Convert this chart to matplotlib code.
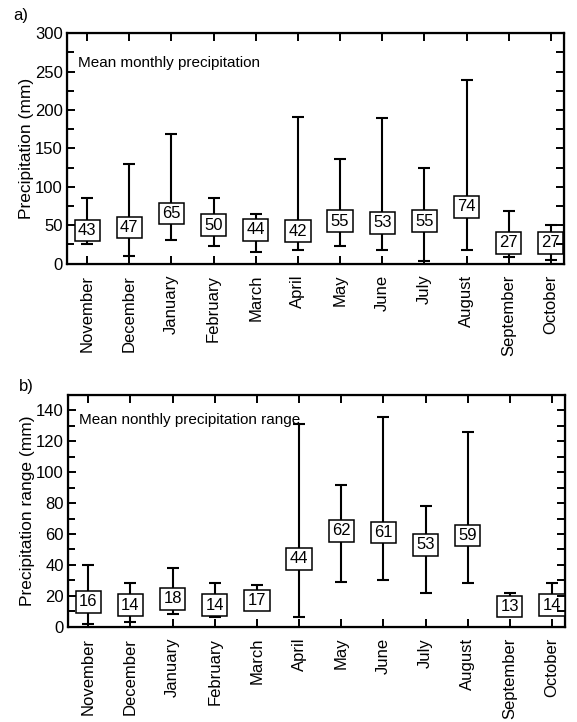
import matplotlib
matplotlib.use("Agg")
from matplotlib import pyplot as plt
from matplotlib.ticker import MultipleLocator

plt.rcParams['font.family'] = ['Liberation Sans', 'DejaVu Sans']

months = ["November", "December", "January", "February", "March", "April",
          "May", "June", "July", "August", "September", "October"]

# panel a: mean monthly precipitation (mm) with min / max
precip_mean = [43, 47, 65, 50, 44, 42, 55, 53, 55, 74, 27, 27]
precip_min = [26, 10, 30, 23, 15, 17, 23, 18, 3, 18, 9, 4]
precip_max = [85, 130, 169, 85, 65, 191, 136, 189, 125, 239, 68, 50]

# panel b: mean monthly precipitation range (mm) with min / max
range_mean = [16, 14, 18, 14, 17, 44, 62, 61, 53, 59, 13, 14]
range_min = [2, 3, 8, 6, 12, 6, 29, 30, 22, 28, 8, 8]
range_max = [40, 28, 38, 28, 27, 131, 92, 136, 78, 126, 22, 28]

fig = plt.figure(figsize=(5.77, 7.22), dpi=100)
ax_a = fig.add_axes([0.116, 0.635, 0.862, 0.319])
ax_b = fig.add_axes([0.118, 0.132, 0.862, 0.321])


def draw_panel(ax, mean, lo, hi, ylim, major, minor, right_step, ylabel, note, note_y):
    x = list(range(len(months)))
    # whiskers from min to max
    ax.errorbar(x, mean, yerr=[[m - l for m, l in zip(mean, lo)],
                               [h - m for m, h in zip(mean, hi)]],
                fmt='none', ecolor='black', elinewidth=1.5, capsize=4.5,
                capthick=1.5, zorder=2)
    # the value itself, written in a box at the mean
    for xi, m in zip(x, mean):
        ax.text(xi, m, str(m), ha='center', va='center', fontsize=12,
                zorder=3,
                bbox=dict(boxstyle='square,pad=0.2', fc='white', ec='black', lw=1.1))
    ax.set_xlim(-0.48, 11.32)
    ax.set_ylim(*ylim)
    ax.set_xticks(x)
    ax.set_xticklabels(months, rotation=90, fontsize=12)
    ax.yaxis.set_major_locator(MultipleLocator(major))
    ax.yaxis.set_minor_locator(MultipleLocator(minor))
    ax.tick_params(axis='both', which='both', direction='in', width=1.4)
    ax.tick_params(axis='both', which='major', length=6)
    ax.tick_params(axis='y', which='minor', length=5)
    ax.tick_params(axis='y', labelsize=12, pad=3)
    ax.tick_params(axis='x', top=True, pad=8)
    for s in ax.spines.values():
        s.set_linewidth(1.6)
    ax.set_ylabel(ylabel, fontsize=12.5, labelpad=1)
    # right side ticks without labels
    ax_r = ax.twinx()
    ax_r.set_ylim(*ylim)
    ax_r.yaxis.set_major_locator(MultipleLocator(right_step))
    ax_r.tick_params(axis='y', direction='in', length=6, width=1.4, labelright=False)
    ax.text(0.022, note_y, note, transform=ax.transAxes,
            ha='left', va='center', fontsize=11, zorder=1)


draw_panel(ax_a, precip_mean, precip_min, precip_max, (0, 300), 50, 25, 25,
           "Precipitation (mm)", "Mean monthly precipitation", 0.87)
draw_panel(ax_b, range_mean, range_min, range_max, (0, 150), 20, 10, 10,
           "Precipitation range (mm)", "Mean nonthly precipitation range", 0.89)

fig.text(0.023, 0.978, "a)", fontsize=12, va='center')
fig.text(0.032, 0.465, "b)", fontsize=12, va='center')

fig.savefig("out.png", dpi=100)
